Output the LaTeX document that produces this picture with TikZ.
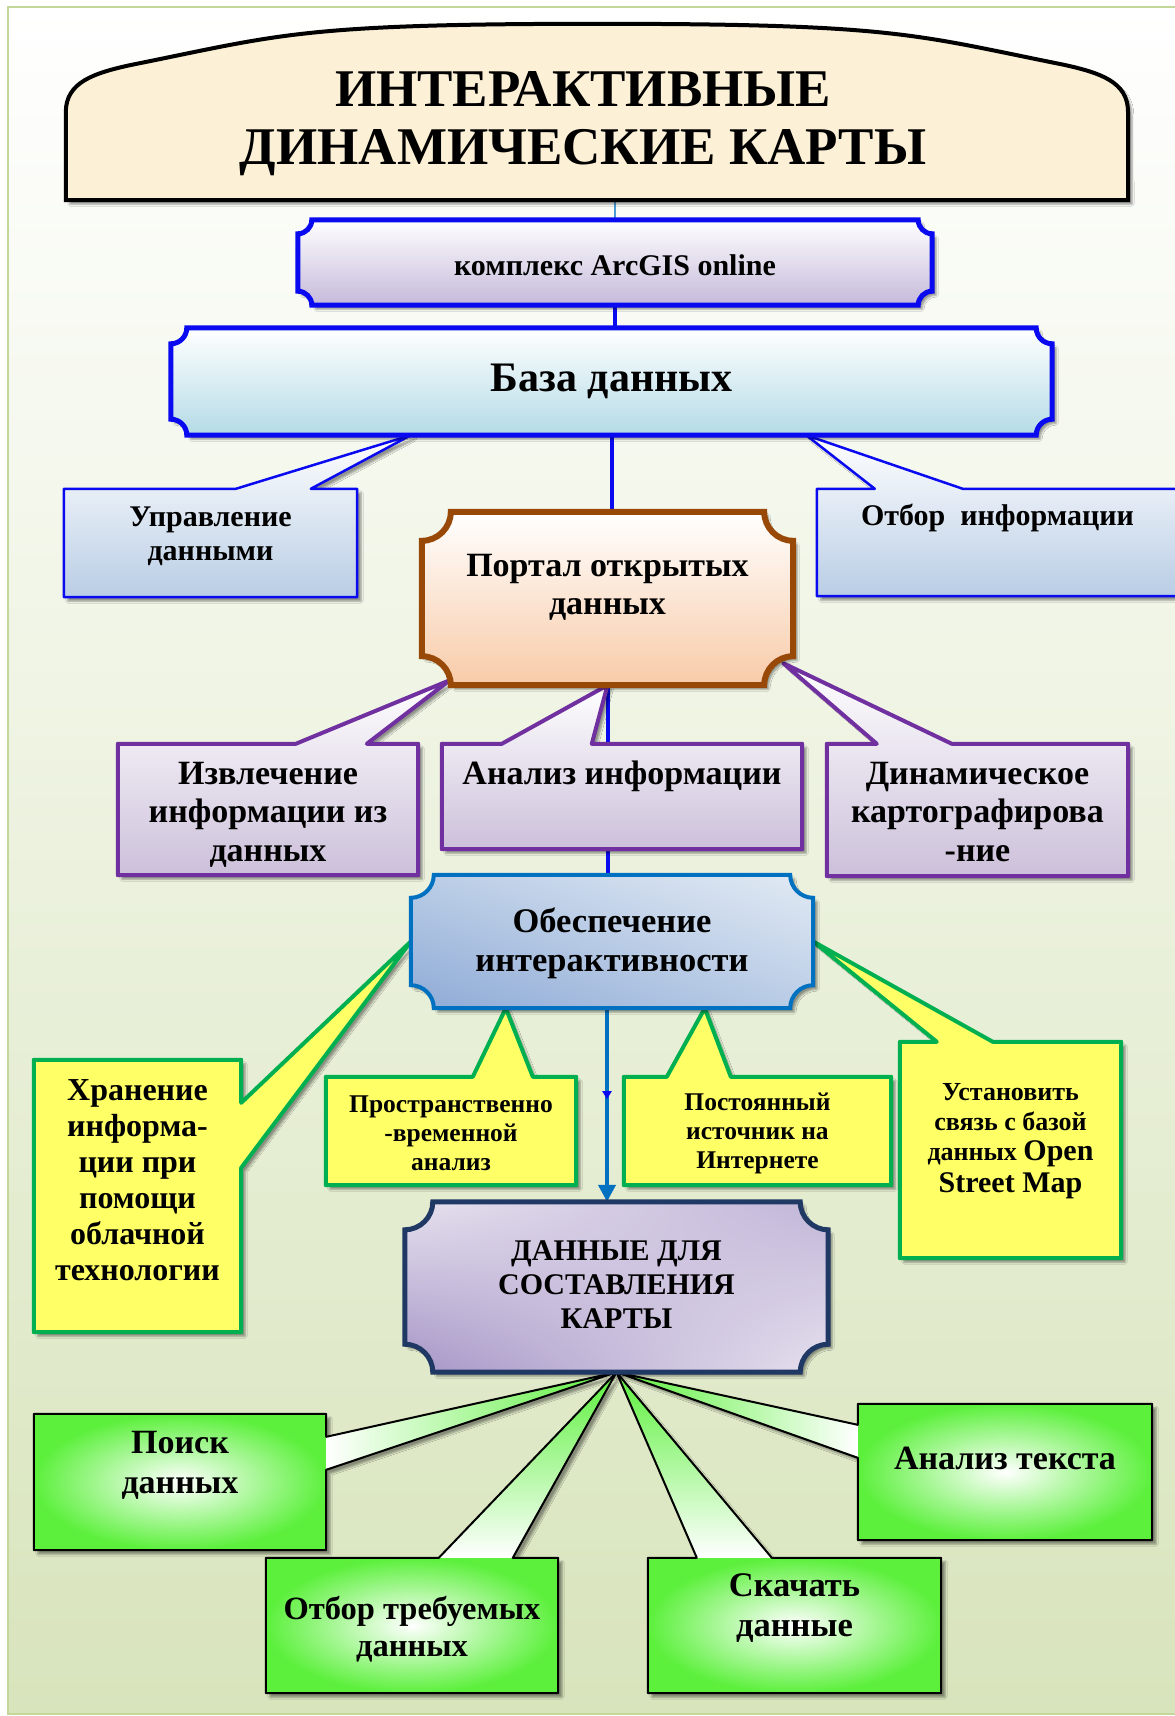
\documentclass[tikz,border=0pt]{standalone}
\usepackage{fontspec}
\setmainfont{Liberation Serif}
\usetikzlibrary{positioning,calc,fit,shadows.blur,shadings,arrows.meta,decorations.markings}

\definecolor{bgbottom}{HTML}{D8E4BC}
\definecolor{framegreen}{HTML}{C4D79B}
\definecolor{parchment}{HTML}{FCF0D6}
\definecolor{mapblue}{HTML}{0A0AF0}
\definecolor{lavender}{HTML}{C5B9DA}
\definecolor{paleteal}{HTML}{B4DBE6}
\definecolor{paleblue}{HTML}{B9CDE5}
\definecolor{portalbrown}{HTML}{984807}
\definecolor{peach}{HTML}{F8CBA8}
\definecolor{mapviolet}{HTML}{7030A0}
\definecolor{lilac}{HTML}{CCC0DA}
\definecolor{steelblue}{HTML}{0070C0}
\definecolor{mapnavy}{HTML}{1F3864}
\definecolor{lemon}{HTML}{FFFF66}
\definecolor{leafgreen}{HTML}{00B050}
\definecolor{limegreen}{HTML}{5CF03C}
\definecolor{obesplight}{HTML}{E2EAF4}
\definecolor{obespmid}{HTML}{BACDE6}
\definecolor{obespdark}{HTML}{8EAAD6}
\definecolor{dannyelight}{HTML}{E6E1EE}
\definecolor{dannyemid}{HTML}{C2B5D8}
\definecolor{dannyedark}{HTML}{A594C6}

% plaque: rectangle with scooped corners, drawn round a node
\newcommand\plaque[3]{%
  \path[#3] ($(#1.north west)+(#2,0)$) -- ($(#1.north east)+(-#2,0)$)
    .. controls +(0,0.55*#2) and +(-0.55*#2,0) .. ($(#1.north east)+(0,#2)$)
    -- ($(#1.south east)+(0,-#2)$)
    .. controls +(-0.55*#2,0) and +(0,-0.55*#2) .. ($(#1.south east)+(-#2,0)$)
    -- ($(#1.south west)+(#2,0)$)
    .. controls +(0,-0.55*#2) and +(0.55*#2,0) .. ($(#1.south west)+(0,-#2)$)
    -- ($(#1.north west)+(0,#2)$)
    .. controls +(0.55*#2,0) and +(0,0.55*#2) .. ($(#1.north west)+(#2,0)$)
    -- cycle;}

% green callout: radial box, shaded wedge, black outline
\newcommand\greencallout[4]{%
  \path[greenbase] #2;
  \shade[inner color=white, outer color=limegreen] (#1.south west) rectangle (#1.north east);
  \shade[#4] #3;
  \path[greenline] #2;}

\tikzset{
  box/.style={inner sep=0pt},
  txt/.style={align=center, inner sep=0pt},
  drop/.style={blur shadow={shadow blur steps=5, shadow xshift=4pt,
                            shadow yshift=-4pt, shadow opacity=40}},
  mainline/.style={draw=mapblue, line width=4pt},
  bluecall/.style={draw=mapblue, line width=2.5pt, line join=round,
                   top color=white, bottom color=paleblue, drop},
  purplecall/.style={draw=mapviolet, line width=4pt, line join=round,
                     top color=white, bottom color=lilac, drop},
  yellowcall/.style={draw=leafgreen, line width=4pt, line join=round,
                     fill=lemon, drop},
  greenbase/.style={fill=limegreen, drop},
  greenline/.style={draw=black, line width=2pt, line join=round},
}

\begin{document}
\begin{tikzpicture}[x=1pt, y=-1pt]
  \useasboundingbox (0,0) rectangle (1175,1716);
  \clip (0,0) rectangle (1175,1716);

  % Fond degrade et cadre
  \path[top color=white, bottom color=bgbottom, draw=framegreen, line width=1.5pt]
    (8,7) rectangle (1190,1714);

  % Cadres des blocs
  \node[box, fit={(66,24) (1128,200)}] (title) {};
  \node[box, fit={(298,220) (932,305)}] (arcgis) {};
  \node[box, fit={(171,328) (1052,435)}] (baza) {};
  \node[box, fit={(64,489) (357,597)}] (upr) {};
  \node[box, fit={(817,489) (1178,596)}] (otbor) {};
  \node[box, fit={(422,512) (793,685)}] (portal) {};
  \node[box, fit={(118,744) (418,875)}] (izvl) {};
  \node[box, fit={(442,744) (802,849)}] (analiz) {};
  \node[box, fit={(827,744) (1128,876)}] (dinam) {};
  \node[box, fit={(411,875) (813,1008)}] (obesp) {};
  \node[box, fit={(34,1060) (241,1332)}] (hran) {};
  \node[box, fit={(326,1077) (576,1185)}] (prostr) {};
  \node[box, fit={(624,1077) (891,1185)}] (postoyan) {};
  \node[box, fit={(900,1042) (1121,1258)}] (ustan) {};
  \node[box, fit={(405,1202) (828,1372)}] (dannye) {};
  \node[box, fit={(34,1414) (326,1550)}] (poisk) {};
  \node[box, fit={(266,1558) (558,1693)}] (otbortreb) {};
  \node[box, fit={(648,1558) (941,1693)}] (skachat) {};
  \node[box, fit={(858,1404) (1152,1540)}] (analiztext) {};

  % Liaisons verticales
  \draw[draw=steelblue!70, line width=1.2pt] (arcgis.north |- title.south) -- (arcgis.north);
  \draw[mainline] (arcgis.south) -- (arcgis.south |- baza.north);
  \draw[mainline] (baza.south) -- (baza.south |- portal.north);
  \draw[mainline] (portal.south) -- (portal.south |- obesp.north);
  \coordinate (arrowtop) at ([xshift=-5pt]obesp.south);
  \draw[draw=steelblue, line width=4pt, -{Triangle[width=17pt,length=17pt]},
        postaction={decorate, decoration={markings, mark=at position 0.47 with
          {\arrow[mapblue]{Triangle[width=9pt,length=8pt]}}}}]
    (arrowtop) -- (arrowtop |- dannye.north);

  % Bulles bleues
  \path[bluecall] (upr.south west) |- ($(upr.north west)+(172,0)$)
    -- ($(baza.south west)+(240,0)$) -- ($(upr.north west)+(247,0)$)
    -| (upr.south east) -- cycle;
  \path[bluecall] (otbor.south west) |- ($(otbor.north west)+(58,0)$)
    -- ($(baza.south east)+(-246,0)$) -- ($(otbor.north west)+(146,0)$)
    -| (otbor.south east) -- cycle;

  % Bulles violettes
  \path[purplecall] (izvl.south west) |- ($(izvl.north west)+(178,0)$)
    -- ($(portal.south west)+(28,-5)$) -- ($(izvl.north west)+(249,0)$)
    -| (izvl.south east) -- cycle;
  \path[purplecall] (analiz.south west) |- ($(analiz.north west)+(60,0)$)
    -- (portal.south) -- ($(analiz.north west)+(150,0)$)
    -| (analiz.south east) -- cycle;
  \path[purplecall] (dinam.south west) |- ($(dinam.north west)+(50,0)$)
    -- ($(portal.south east)+(-10,-22)$) -- ($(dinam.north west)+(125,0)$)
    -| (dinam.south east) -- cycle;

  % Bulles jaunes
  \path[yellowcall] (hran.north west) -| ($(hran.north east)+(0,43)$)
    -- (obesp.west) -- ($(hran.north east)+(0,108)$)
    |- (hran.south west) -- cycle;
  \path[yellowcall] (prostr.south west) |- ($(prostr.north west)+(147,0)$)
    -- ($(obesp.south west)+(95,0)$) -- ($(prostr.north west)+(207,0)$)
    -| (prostr.south east) -- cycle;
  \path[yellowcall] (postoyan.south west) |- ($(postoyan.north west)+(43,0)$)
    -- ($(obesp.south west)+(294,0)$) -- ($(postoyan.north west)+(107,0)$)
    -| (postoyan.south east) -- cycle;
  \path[yellowcall] (ustan.south west) |- ($(ustan.north west)+(37,0)$)
    -- (obesp.east) -- ($(ustan.north west)+(93,0)$)
    -| (ustan.south east) -- cycle;

  % Bulles vertes
  \greencallout{poisk}
    {(poisk.north west) -| ($(poisk.north east)+(0,23)$) -- (dannye.south)
      -- ($(poisk.north east)+(0,56)$) |- (poisk.south west) -- cycle}
    {($(poisk.north east)+(0,23)$) -- (dannye.south) -- ($(poisk.north east)+(0,56)$) -- cycle}
    {left color=white, right color=limegreen};
  \greencallout{otbortreb}
    {(otbortreb.south west) |- ($(otbortreb.north west)+(173,0)$) -- (dannye.south)
      -- ($(otbortreb.north west)+(247,0)$) -| (otbortreb.south east) -- cycle}
    {($(otbortreb.north west)+(173,0)$) -- (dannye.south) -- ($(otbortreb.north west)+(247,0)$) -- cycle}
    {top color=limegreen, bottom color=white};
  \greencallout{skachat}
    {(skachat.south west) |- ($(skachat.north west)+(49,0)$) -- (dannye.south)
      -- ($(skachat.north west)+(124,0)$) -| (skachat.south east) -- cycle}
    {($(skachat.north west)+(49,0)$) -- (dannye.south) -- ($(skachat.north west)+(124,0)$) -- cycle}
    {top color=limegreen, bottom color=white};
  \greencallout{analiztext}
    {(analiztext.north east) -| ($(analiztext.north west)+(0,21)$) -- (dannye.south)
      -- ($(analiztext.north west)+(0,54)$) |- (analiztext.south east) -- cycle}
    {($(analiztext.north west)+(0,21)$) -- (dannye.south) -- ($(analiztext.north west)+(0,54)$) -- cycle}
    {left color=limegreen, right color=white};

  % Titre en arche
  \path[draw=black, line width=4pt, fill=parchment, drop]
    (title.south west) -- ++(0,-88)
    .. controls +(0,-30) and +(-36,8) .. ++(64,-47)
    .. controls +(150,-30) and +(-300,0) .. (title.north)
    .. controls +(300,0) and +(-150,-30) .. ++(467,41)
    .. controls +(36,8) and +(0,-30) .. ++(64,47)
    -- (title.south east) -- cycle;

  % Blocs principaux
  \plaque{arcgis}{14}{draw=mapblue, line width=5pt, top color=white, bottom color=lavender, drop}
  \plaque{baza}{16}{draw=mapblue, line width=5pt, top color=white, bottom color=paleteal, drop}
  \plaque{portal}{29}{draw=portalbrown, line width=6pt, top color=white, bottom color=peach, drop}
  \plaque{obesp}{23}{draw=steelblue, line width=4pt, upper right=obesplight,
    upper left=obespmid, lower left=obespdark, lower right=obespmid, drop}
  \plaque{dannye}{28}{draw=mapnavy, line width=5pt, upper left=dannyelight,
    upper right=dannyemid, lower left=dannyedark, lower right=dannyelight, drop}

  % Textes
  \node[txt, font=\bfseries\fontsize{53}{58}\selectfont] (titlelbl)
    at ([xshift=-14pt,yshift=-12pt]title.center) {ИНТЕРАКТИВНЫЕ\\ДИНАМИЧЕСКИЕ КАРТЫ};
  \node[txt, font=\bfseries\fontsize{30}{34}\selectfont] (arcgislbl)
    at ([yshift=-3pt]arcgis.center) {комплекс ArcGIS online};
  \node[txt, font=\bfseries\fontsize{42}{48}\selectfont] (bazalbl)
    at (baza.center) {База данных};
  \node[txt, font=\bfseries\fontsize{30}{34}\selectfont] (uprlbl)
    at ([yshift=7pt]upr.center) {Управление\\данными};
  \node[txt, font=\bfseries\fontsize{30}{34}\selectfont] (otborlbl)
    at ([yshift=25pt]otbor.center) {Отбор\ \ информации};
  \node[txt, font=\bfseries\fontsize{34}{38}\selectfont] (portallbl)
    at ([yshift=11pt]portal.center) {Портал открытых\\данных};
  \node[txt, font=\bfseries\fontsize{34}{38.5}\selectfont] (izvllbl)
    at ([yshift=-5pt]izvl.center) {Извлечение\\информации из\\данных};
  \node[txt, font=\bfseries\fontsize{34}{38.5}\selectfont] (analizlbl)
    at ([yshift=20pt]analiz.center) {Анализ информации};
  \node[txt, font=\bfseries\fontsize{34}{38.5}\selectfont] (dinamlbl)
    at ([yshift=-2pt]dinam.center) {Динамическое\\картографирова\\-ние};
  \node[txt, font=\bfseries\fontsize{34.5}{39}\selectfont] (obesplbl)
    at ([yshift=-2pt]obesp.center) {Обеспечение\\интерактивности};
  \node[txt, font=\bfseries\fontsize{32}{36}\selectfont] (hranlbl)
    at ([yshift=16pt]hran.center) {Хранение\\информа-\\ции при\\помощи\\облачной\\технологии};
  \node[txt, font=\bfseries\fontsize{25.5}{29}\selectfont] (prostrlbl)
    at ([yshift=-2pt]prostr.center) {Пространственно\\-временной\\анализ};
  \node[txt, font=\bfseries\fontsize{25.5}{29}\selectfont] (postoyanlbl)
    at ([yshift=-2pt]postoyan.center) {Постоянный\\источник на\\Интернете};
  \node[txt, font=\bfseries\fontsize{26}{30}\selectfont] (ustanlbl)
    at ([yshift=9pt]ustan.center)
    {Установить\\связь с базой\\данных {\fontsize{30}{32}\selectfont Open}\\[2pt]
     {\fontsize{30}{32}\selectfont Street Map}};
  \node[txt, font=\bfseries\fontsize{30}{34}\selectfont] (dannyelbl)
    at ([yshift=2pt]dannye.center) {ДАННЫЕ ДЛЯ\\СОСТАВЛЕНИЯ\\КАРТЫ};
  \node[txt, font=\bfseries\fontsize{34}{40}\selectfont] (poisklbl)
    at ([yshift=17pt]poisk.center) {Поиск\\данных};
  \node[txt, font=\bfseries\fontsize{32.5}{37}\selectfont] (otbortreblbl)
    at ([yshift=-4pt]otbortreb.center) {Отбор требуемых\\данных};
  \node[txt, font=\bfseries\fontsize{34.5}{40}\selectfont] (skachatlbl)
    at ([yshift=17pt]skachat.center) {Скачать\\данные};
  \node[txt, font=\bfseries\fontsize{34}{38}\selectfont] (analiztextlbl)
    at ([yshift=14pt]analiztext.center) {Анализ текста};
\end{tikzpicture}
\end{document}
